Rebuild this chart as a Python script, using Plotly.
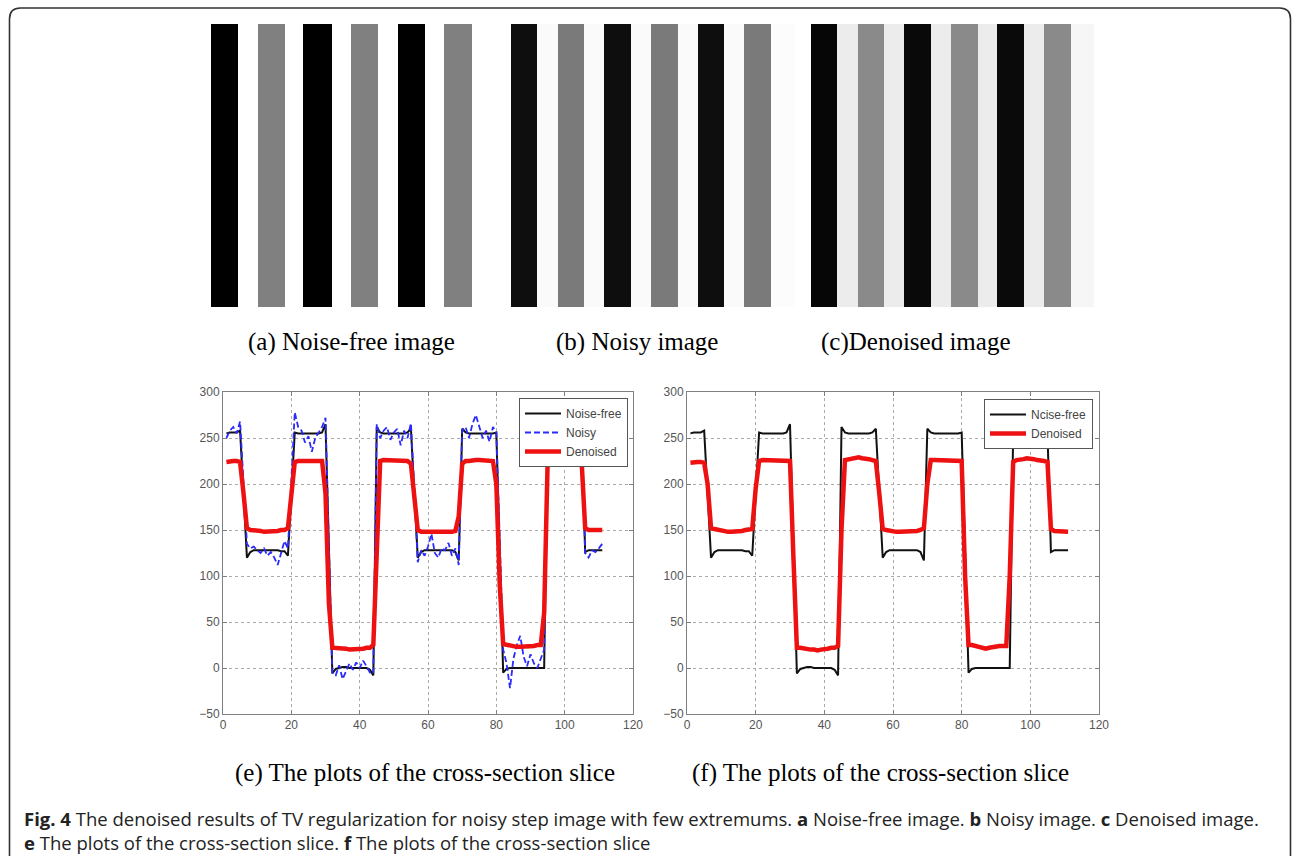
import numpy as np
import plotly.graph_objects as go

W, H = 1296, 856

# ---------------- data ----------------
sample_idx = list(range(1, 112))

noise_free = [255, 256, 256, 256, 258, 190, 120, 126,
              128, 128, 128, 128, 128, 128, 128, 128, 127, 127,
              122, 190, 256,
              255, 255, 255, 255, 255, 255, 255, 256,
              265, 130, -6, -1,
              0, 1, 1, 0, 0, 0, 0, 0, 0,
              -2, -8, 262,
              256, 255, 255, 255, 255, 255, 255, 255, 256,
              260, 190, 120, 126,
              128, 128, 128, 128, 128, 128, 128, 128, 128,
              126, 117, 260,
              256, 255, 255, 255, 255, 255, 255, 255, 255, 256,
              130, -5, -1,
              0, 0, 0, 0, 0, 0, 0, 0, 0, 0,
              0, 256,
              255, 255, 255, 255, 255, 255, 255, 255, 255,
              255, 126,
              128, 128, 128, 128, 128]

noisy = [250, 258, 262, 255, 268, 195, 135,
         130, 132, 128, 125, 130, 122, 126, 120, 112, 125, 138, 130,
         200, 278,
         262, 258, 245, 252, 235, 250, 256, 262, 272,
         140, -5,
         -8, 3, -12, -3, 5, -2, 6, 0, 8, 2, -5, -6,
         265,
         250, 258, 262, 248, 256, 260, 242, 258, 250, 266,
         195, 115,
         128, 122, 132, 146, 125, 120, 130, 128, 136, 122, 130, 112,
         258,
         262, 250, 265, 275, 262, 250, 258, 246, 262, 256,
         140, 20,
         5, -22, 10, 25, 35, 12, 2, 15, 5, 0, 10, 20,
         255,
         258, 250, 262, 248, 256, 265, 252, 248, 260,
         250, 125,
         120, 128, 126, 130, 135]

denoised_e = [224, 225, 225, 225, 224, 190, 152,
              150, 150, 149, 149, 148, 148, 148, 149, 149, 150, 150, 152,
              190, 224,
              225, 225, 226, 226, 226, 226, 225, 225,
              190, 70, 22,
              22, 22, 21, 21, 20, 20, 20, 21, 21, 22, 22,
              25, 130,
              225, 226, 226, 226, 226, 226, 226, 225, 225,
              222, 185, 150,
              148, 148, 147, 147, 147, 147, 147, 148, 148, 148, 149,
              165, 222,
              225, 225, 226, 226, 226, 226, 226, 225, 225,
              200, 90, 26,
              25, 24, 24, 23, 23, 23, 23, 24, 24, 25, 25,
              60, 222,
              225, 225, 226, 226, 226, 226, 225, 225, 225,
              222, 152,
              150, 150, 150, 149, 150]

denoised_f = [223, 224, 224, 224, 223, 200, 152,
              151, 150, 150, 149, 148, 148, 148, 149, 149, 150, 150, 151,
              195, 225,
              226, 226, 226, 226, 226, 226, 226, 225,
              225, 120, 22,
              22, 21, 21, 20, 20, 19, 20, 20, 21, 22, 22,
              24, 150,
              226, 227, 228, 228, 229, 228, 228, 227, 226,
              225, 190, 151,
              150, 149, 149, 148, 148, 148, 148, 148, 149, 149, 150,
              152, 200,
              226, 226, 226, 226, 226, 226, 226, 226, 226,
              225, 100, 25,
              25, 24, 23, 22, 21, 22, 23, 23, 24, 24, 24,
              100, 224,
              226, 226, 227, 228, 228, 227, 226, 226, 225,
              224, 151,
              149, 149, 148, 148, 148]

# stripe images: grey level of each band and its width in image columns
img_a_levels = [0, 255, 128, 255, 0, 255, 128, 255, 0, 255, 128, 255]
img_a_widths = [27, 20, 27, 18, 29, 19, 27, 20, 27, 19, 28, 22]
img_b_levels = [14, 250, 122, 250, 14, 250, 122, 250, 14, 250, 122, 252]
img_b_widths = [26, 21, 26, 20, 27, 20, 27, 20, 26, 20, 27, 23]
img_c_levels = [6, 236, 138, 236, 9, 236, 138, 236, 10, 236, 138, 246]
img_c_widths = [26, 21, 26, 20, 27, 20, 27, 19, 27, 20, 27, 23]

x_ticks = [0, 20, 40, 60, 80, 100, 120]
y_ticks = [-50, 0, 50, 100, 150, 200, 250, 300]

# ---------------- helpers ----------------
def px(x):
    return x / W

def py(y):
    return 1 - y / H

fig = go.Figure()

gray_scale = [[0, "#000000"], [1, "#ffffff"]]
img_specs = [(img_a_levels, img_a_widths, 211),
             (img_b_levels, img_b_widths, 511),
             (img_c_levels, img_c_widths, 811)]
for k, (lv, wd, left) in enumerate(img_specs):
    ax = k + 3
    edges = np.concatenate([[0], np.cumsum(wd)])
    fig.add_trace(go.Heatmap(z=[lv], x=edges, y=[0, 1], colorscale=gray_scale,
                             zmin=0, zmax=255, showscale=False, hoverinfo="skip",
                             xaxis=f"x{ax}", yaxis=f"y{ax}"))
    fig.layout[f"xaxis{ax}"] = dict(domain=[px(left), px(left + 283)], range=[0, 283],
                                   visible=False, anchor=f"y{ax}")
    fig.layout[f"yaxis{ax}"] = dict(domain=[py(307), py(24)], range=[0, 1],
                                   visible=False, anchor=f"x{ax}")

# line plots
fig.add_trace(go.Scatter(x=sample_idx, y=noise_free, name="Noise-free", mode="lines",
                         line=dict(color="#111111", width=2), xaxis="x", yaxis="y",
                         legend="legend"))
fig.add_trace(go.Scatter(x=sample_idx, y=noisy, name="Noisy", mode="lines",
                         line=dict(color="#2a2aff", width=1.8, dash="6px,3px"), xaxis="x", yaxis="y",
                         legend="legend"))
fig.add_trace(go.Scatter(x=sample_idx, y=denoised_e, name="Denoised", mode="lines",
                         line=dict(color="#ee1111", width=4.5), xaxis="x", yaxis="y",
                         legend="legend"))
fig.add_trace(go.Scatter(x=sample_idx, y=noise_free, name="Ncise-free", mode="lines",
                         line=dict(color="#111111", width=2), xaxis="x2", yaxis="y2",
                         legend="legend2"))
fig.add_trace(go.Scatter(x=sample_idx, y=denoised_f, name="Denoised", mode="lines",
                         line=dict(color="#ee1111", width=4.5), xaxis="x2", yaxis="y2",
                         legend="legend2"))

tick_font = dict(family="Liberation Sans, Arial", size=12, color="#555555")
axis_common = dict(showline=True, linecolor="#808080", linewidth=1, mirror="ticks",
                   ticks="inside", ticklen=4, tickcolor="#808080",
                   showgrid=True, gridcolor="#aaaaaa", griddash="dot", gridwidth=1,
                   zeroline=False, tickfont=tick_font, fixedrange=True, automargin=False)

fig.update_layout(
    xaxis=dict(domain=[px(223), px(633)], range=[0, 120], tickvals=x_ticks, anchor="y", **axis_common),
    yaxis=dict(domain=[py(714), py(392)], range=[-50, 300], tickvals=y_ticks, anchor="x", **axis_common),
    xaxis2=dict(domain=[px(687), px(1099)], range=[0, 120], tickvals=x_ticks, anchor="y2", **axis_common),
    yaxis2=dict(domain=[py(714), py(392)], range=[-50, 300], tickvals=y_ticks, anchor="x2", **axis_common),
)

legend_common = dict(xanchor="left", yanchor="top", bgcolor="white", bordercolor="#555555",
                     borderwidth=1, font=dict(family="Liberation Sans, Arial", size=12, color="#444444"),
                     itemwidth=36, tracegroupgap=0)
fig.update_layout(
    legend=dict(x=px(519), y=py(398), **legend_common),
    legend2=dict(x=px(984), y=py(399), **legend_common),
)

serif = dict(family="Liberation Serif, Times New Roman", size=25, color="#000000")
captions = [("(a) Noise-free image", 351, 342),
            ("(b) Noisy image", 637, 342),
            ("(c)Denoised image", 916, 342),
            ("(e) The plots of the cross-section slice", 425, 773),
            ("(f) The plots of the cross-section slice", 880, 773)]
ann = []
for txt, cx, cy in captions:
    ann.append(dict(text=txt, x=px(cx), y=py(cy), xref="paper", yref="paper",
                    showarrow=False, xanchor="center", yanchor="middle", font=serif))

sans = dict(family="Open Sans, Noto Sans", size=18.5, color="#222222")
ann.append(dict(text="<b>Fig. 4</b> The denoised results of TV regularization for noisy step image with few extremums. "
                     "<b>a</b> Noise-free image. <b>b</b> Noisy image. <b>c</b> Denoised image.<br>"
                     "<b>e</b> The plots of the cross-section slice. <b>f</b> The plots of the cross-section slice",
                x=px(22), y=py(830), xref="paper", yref="paper", showarrow=False,
                xanchor="left", yanchor="middle", align="left", font=sans))

# rounded frame around the figure
L, T, R, B, r = 9.5, 8, 1290.5, 880, 11
path = (f"M {px(L)},{py(B)} L {px(L)},{py(T + r)} Q {px(L)},{py(T)} {px(L + r)},{py(T)} "
        f"L {px(R - r)},{py(T)} Q {px(R)},{py(T)} {px(R)},{py(T + r)} L {px(R)},{py(B)}")
shapes = [dict(type="path", path=path, xref="paper", yref="paper",
               line=dict(color="#333333", width=1.6))]

fig.update_layout(width=W, height=H, margin=dict(l=0, r=0, t=0, b=0, pad=0, autoexpand=False),
                  paper_bgcolor="white", plot_bgcolor="white",
                  annotations=ann, shapes=shapes, showlegend=True)

fig.write_html("out.html", config={"displayModeBar": False},
               post_script="document.documentElement.style.margin='0';"
                           "document.documentElement.style.overflow='hidden';"
                           "document.body.style.margin='0';document.body.style.padding='0';"
                           "document.body.style.overflow='hidden';")
